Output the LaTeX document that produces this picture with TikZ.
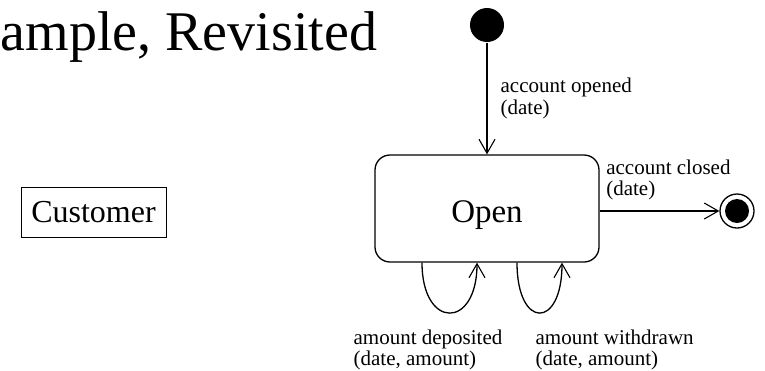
\documentclass[tikz,border=0pt]{standalone}
\usepackage{fontspec}
\setmainfont{Liberation Serif}
\usetikzlibrary{arrows.meta, positioning}

\begin{document}
\begin{tikzpicture}[x=1pt, y=-1pt, line width=1.3pt, >={Straight Barb[length=14pt, width=16pt, line width=1.1pt]},
    state/.style={draw, rounded corners=15pt, minimum width=224pt, minimum height=107pt, inner sep=0pt, text height=27pt, text depth=0pt, font=\fontsize{33}{36}\selectfont},
    pseudo/.style={circle, fill, inner sep=0pt, minimum size=34pt},
    event/.style={align=left, inner sep=0pt, font=\fontsize{21}{21.5}\selectfont}]
  \useasboundingbox (0,0) rectangle (765,370);
  \node[anchor=base west, inner sep=0pt, font=\fontsize{56}{60}\selectfont] (title) at (0,50) {ample, Revisited};
  \node[draw, line width=1pt, minimum width=145pt, minimum height=50pt, inner sep=0pt, font=\fontsize{32}{34}\selectfont] (customer) at (93.5,212) {Customer};
  \node[state] (open) at (487,208.5) {Open};
  \node[pseudo] (init) at (487,25) {};
  \node[circle, draw, inner sep=0pt, minimum size=34pt] (final) at (737,211) {};
  \node[pseudo, minimum size=24pt] (finaldot) at (final) {};
  \draw[->] (init) -- node[event, right=13pt] {account opened\\(date)} (open);
  \draw[->] (open.east |- final) -- node[event, pos=0, anchor=south west, xshift=6pt, yshift=10pt] {account closed\\(date)} (final);
  \draw[->] ([xshift=-65pt]open.south) .. controls +(0,67) and +(0,67) .. node[event, pos=0.5, anchor=north west, xshift=-96.5pt, yshift=-16pt] {amount deposited\\(date, amount)} ([xshift=-10pt]open.south);
  \draw[->] ([xshift=30pt]open.south) .. controls +(0,67) and +(0,67) .. node[event, pos=0.5, anchor=north west, xshift=-4.5pt, yshift=-16pt] {amount withdrawn\\(date, amount)} ([xshift=75pt]open.south);
\end{tikzpicture}
\end{document}
